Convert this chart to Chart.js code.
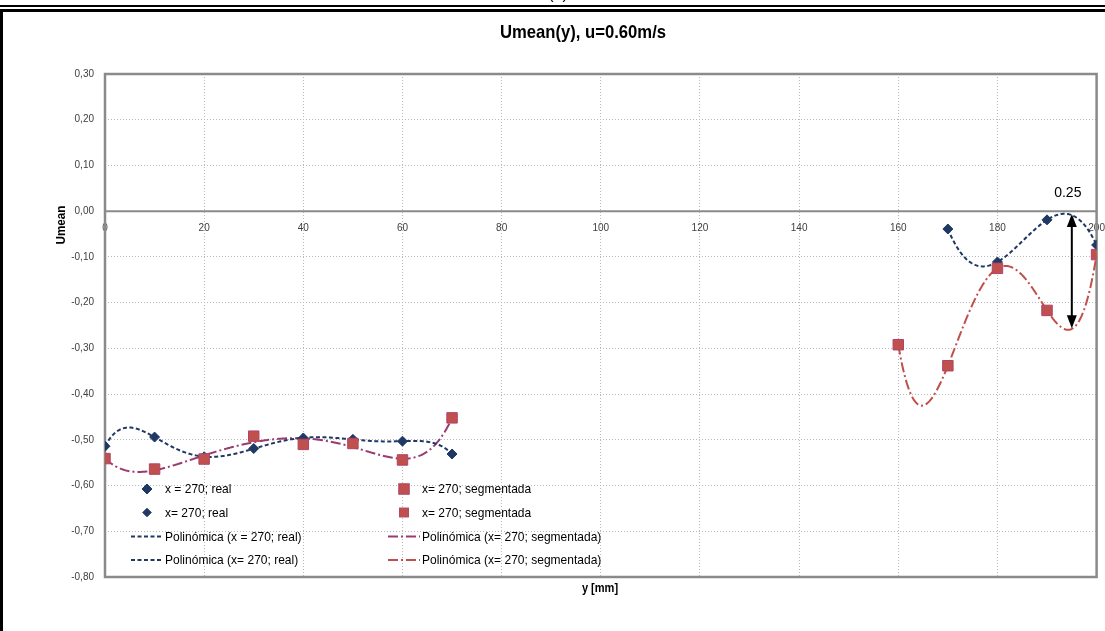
<!DOCTYPE html>
<html>
<head>
<meta charset="utf-8">
<script src="https://cdn.jsdelivr.net/npm/chart.js@4.4.1/dist/chart.umd.min.js"></script>
<style>
  html, body { margin: 0; padding: 0; background: #ffffff; }
  #wrap { position: relative; width: 1105px; height: 631px; overflow: hidden; }
  canvas { display: block; }
</style>
</head>
<body>
<div id="wrap"><canvas id="c" width="1105" height="631"></canvas></div>
<script>
// ---- measured profiles: Umean against transverse position y [mm] ----
const yRealLeft   = [0, 10, 20, 30, 40, 50, 60, 70];
const realLeft    = [-0.514, -0.494, -0.537, -0.519, -0.496, -0.499, -0.503, -0.531];
const ySegLeft    = [0, 10, 20, 30, 40, 50, 60, 70];
const segLeft     = [-0.541, -0.564, -0.542, -0.492, -0.510, -0.508, -0.544, -0.452];
const yRealRight  = [170, 180, 190, 200];
const realRight   = [-0.039, -0.111, -0.019, -0.074];
const ySegRight   = [160, 170, 180, 190, 200];
const segRight    = [-0.292, -0.338, -0.125, -0.217, -0.095];

// polynomial trend orders per series
const orderRealLeft = 6, orderSegLeft = 6, orderRealRight = 3, orderSegRight = 4;

// axis ticks
const xTicks = [0, 20, 40, 60, 80, 100, 120, 140, 160, 180, 200];
const yTicks = [0.30, 0.20, 0.10, 0.00, -0.10, -0.20, -0.30, -0.40, -0.50, -0.60, -0.70, -0.80];

// gap annotation between the two right-hand trends
const gapValue = 0.25;
const gapAtY   = 195;
const gapTop   = -0.006;

const chartTitle = 'Umean(y), u=0.60m/s';
const xTitle = 'y [mm]';
const yTitle = 'Umean';
const labels = {
  realLeft: 'x = 270; real',
  realRight: 'x= 270; real',
  segLeft: 'x= 270; segmentada',
  segRight: 'x= 270; segmentada',
  trRealLeft: 'Polinómica (x = 270; real)',
  trRealRight: 'Polinómica (x= 270; real)',
  trSegLeft: 'Polinómica (x= 270; segmentada)',
  trSegRight: 'Polinómica (x= 270; segmentada)'
};

const SANS = "'Liberation Sans', Arial, sans-serif";
const BLUE = '#1f3864';
const RED = '#c0504d';
const PURPLE = '#9b3a72';

// least-squares polynomial fit (normalised abscissa), returns evaluator
function polyfit(xs, ys, order) {
  const n = xs.length;
  const mx = xs.reduce((a, b) => a + b, 0) / n;
  const sc = Math.max(...xs.map(x => Math.abs(x - mx))) || 1;
  const ts = xs.map(x => (x - mx) / sc);
  const m = order + 1;
  const A = [], b = [];
  for (let i = 0; i < m; i++) {
    A.push(new Array(m).fill(0));
    b.push(0);
    for (let k = 0; k < n; k++) b[i] += ys[k] * Math.pow(ts[k], i);
    for (let j = 0; j < m; j++) {
      for (let k = 0; k < n; k++) A[i][j] += Math.pow(ts[k], i + j);
    }
  }
  for (let c = 0; c < m; c++) {
    let p = c;
    for (let r = c + 1; r < m; r++) if (Math.abs(A[r][c]) > Math.abs(A[p][c])) p = r;
    [A[c], A[p]] = [A[p], A[c]];
    [b[c], b[p]] = [b[p], b[c]];
    for (let r = c + 1; r < m; r++) {
      const f = A[r][c] / A[c][c];
      for (let j = c; j < m; j++) A[r][j] -= f * A[c][j];
      b[r] -= f * b[c];
    }
  }
  const coef = new Array(m).fill(0);
  for (let r = m - 1; r >= 0; r--) {
    let s = b[r];
    for (let j = r + 1; j < m; j++) s -= A[r][j] * coef[j];
    coef[r] = s / A[r][r];
  }
  return x => {
    const t = (x - mx) / sc;
    let v = 0;
    for (let k = m - 1; k >= 0; k--) v = v * t + coef[k];
    return v;
  };
}

function trendPoints(xs, ys, order) {
  const f = polyfit(xs, ys, order);
  const pts = [];
  const x0 = xs[0], x1 = xs[xs.length - 1];
  for (let x = x0; x <= x1 + 1e-9; x += 0.25) pts.push({ x: x, y: f(x) });
  return pts;
}

const pairs = (xs, ys) => xs.map((x, i) => ({ x: x, y: ys[i] }));

const trendLine = (label, data, color, dash) => ({
  label, data, showLine: true, pointRadius: 0, pointHoverRadius: 0,
  borderColor: color, borderWidth: 2, borderDash: dash, fill: false,
  tension: 0, order: 10
});

const datasets = [
  trendLine(labels.trRealLeft, trendPoints(yRealLeft, realLeft, orderRealLeft), BLUE, [4, 2.5]),
  trendLine(labels.trRealRight, trendPoints(yRealRight, realRight, orderRealRight), BLUE, [4, 2.5]),
  trendLine(labels.trSegLeft, trendPoints(ySegLeft, segLeft, orderSegLeft), PURPLE, [10, 3, 2, 3]),
  trendLine(labels.trSegRight, trendPoints(ySegRight, segRight, orderSegRight), RED, [10, 3, 2, 3]),
  {
    label: labels.realLeft, data: pairs(yRealLeft, realLeft), showLine: false,
    pointStyle: 'rectRot', pointRadius: 5, backgroundColor: BLUE, borderColor: BLUE, borderWidth: 1, order: 5
  },
  {
    label: labels.realRight, data: pairs(yRealRight, realRight), showLine: false,
    pointStyle: 'rectRot', pointRadius: 5, backgroundColor: BLUE, borderColor: BLUE, borderWidth: 1, order: 5
  },
  {
    label: labels.segLeft, data: pairs(ySegLeft, segLeft), showLine: false,
    pointStyle: 'rect', pointRadius: 7.4, backgroundColor: RED, borderColor: '#b04468', borderWidth: 1, order: 1
  },
  {
    label: labels.segRight, data: pairs(ySegRight, segRight), showLine: false,
    pointStyle: 'rect', pointRadius: 7.4, backgroundColor: RED, borderColor: '#b04468', borderWidth: 1, order: 1
  }
];

// legend layout: two columns, rows as in the dataset grouping
const legendRows = [
  [4, 6],
  [5, 7],
  [0, 2],
  [1, 3]
];

function drawMarker(ctx, ds, x, y, scale) {
  ctx.save();
  ctx.fillStyle = ds.backgroundColor;
  ctx.strokeStyle = ds.borderColor;
  ctx.lineWidth = ds.borderWidth;
  ctx.setLineDash([]);
  if (ds.pointStyle === 'rectRot') {
    const r = ds.pointRadius * scale;
    ctx.beginPath();
    ctx.moveTo(x, y - r); ctx.lineTo(x + r, y); ctx.lineTo(x, y + r); ctx.lineTo(x - r, y);
    ctx.closePath(); ctx.fill(); ctx.stroke();
  } else {
    const h = ds.pointRadius * Math.SQRT1_2 * scale;
    ctx.fillRect(x - h, y - h, 2 * h, 2 * h);
    ctx.strokeRect(x - h, y - h, 2 * h, 2 * h);
  }
  ctx.restore();
}

// text with a narrowed face (horizontal squeeze of the sans face)
function narrowText(ctx, text, x, y, font, sx, align) {
  ctx.save();
  ctx.font = font;
  ctx.textAlign = align || 'left';
  ctx.translate(x, y);
  ctx.scale(sx, 1);
  ctx.fillText(text, 0, 0);
  ctx.restore();
}

const decor = {
  id: 'decor',
  beforeDatasetsDraw(chart) {
    const { ctx, chartArea: a, scales } = chart;
    const y0 = scales.y.getPixelForValue(0);
    ctx.save();
    ctx.strokeStyle = '#8a8a8a';
    ctx.lineWidth = 2;
    ctx.beginPath();
    ctx.moveTo(a.left, y0); ctx.lineTo(a.right, y0);
    ctx.stroke();
    ctx.lineWidth = 2.5;
    ctx.strokeRect(a.left, a.top, a.right - a.left, a.bottom - a.top);
    ctx.restore();
  },
  afterDraw(chart) {
    const { ctx, scales } = chart;
    const sx = scales.x, sy = scales.y;
    ctx.save();

    // gap arrow between the two trends on the right
    const ax = sx.getPixelForValue(gapAtY);
    const aTop = sy.getPixelForValue(gapTop);
    const aBot = sy.getPixelForValue(gapTop - gapValue);
    ctx.strokeStyle = '#000'; ctx.fillStyle = '#000'; ctx.lineWidth = 2;
    ctx.beginPath(); ctx.moveTo(ax, aTop + 10); ctx.lineTo(ax, aBot - 10); ctx.stroke();
    ctx.beginPath(); ctx.moveTo(ax, aTop); ctx.lineTo(ax - 5, aTop + 13); ctx.lineTo(ax + 5, aTop + 13); ctx.closePath(); ctx.fill();
    ctx.beginPath(); ctx.moveTo(ax, aBot); ctx.lineTo(ax - 5, aBot - 13); ctx.lineTo(ax + 5, aBot - 13); ctx.closePath(); ctx.fill();
    ctx.textBaseline = 'middle';
    narrowText(ctx, gapValue.toFixed(2), ax - 4, aTop - 21, '14px ' + SANS, 1, 'center');

    // legend
    ctx.textBaseline = 'middle';
    const colX = [131, 388];
    const rowY = [489, 512.5, 536.5, 560];
    legendRows.forEach((row, ri) => {
      row.forEach((di, ci) => {
        const ds = chart.data.datasets[di];
        const x0 = colX[ci], y = rowY[ri];
        if (ds.showLine) {
          ctx.save();
          ctx.strokeStyle = ds.borderColor; ctx.lineWidth = 2;
          ctx.setLineDash(ds.borderDash);
          ctx.beginPath(); ctx.moveTo(x0, y); ctx.lineTo(x0 + 32, y); ctx.stroke();
          ctx.restore();
        } else {
          drawMarker(ctx, ds, x0 + 16, y, ri === 0 ? 1 : 0.85);
        }
        ctx.fillStyle = '#000';
        narrowText(ctx, ds.label, x0 + 34, y + 0.5, '13.5px ' + SANS, 0.89, 'left');
      });
    });

    // titles
    ctx.fillStyle = '#000';
    ctx.textBaseline = 'middle';
    narrowText(ctx, chartTitle, 583, 33, 'bold 18.5px ' + SANS, 0.9, 'center');
    narrowText(ctx, xTitle, 600, 588, 'bold 13px ' + SANS, 0.85, 'center');
    ctx.save();
    ctx.translate(61, 225);
    ctx.rotate(-Math.PI / 2);
    narrowText(ctx, yTitle, 0, 0, 'bold 13px ' + SANS, 0.9, 'center');
    ctx.restore();

    // page frame
    ctx.fillStyle = '#000';
    ctx.fillRect(0, 5, 1105, 2);
    ctx.fillRect(0, 9, 1105, 3);
    ctx.fillRect(0, 9, 3, 622);
    ctx.font = '16px ' + SANS;
    ctx.textAlign = 'center';
    ctx.textBaseline = 'alphabetic';
    ctx.fillText('(b)', 558, -1);
    ctx.restore();
  }
};

new Chart(document.getElementById('c'), {
  type: 'scatter',
  data: { datasets },
  options: {
    responsive: false,
    animation: false,
    events: [],
    layout: { padding: { left: 45, top: 74, right: 8, bottom: 54 } },
    plugins: { legend: { display: false }, tooltip: { enabled: false }, title: { display: false } },
    scales: {
      x: {
        type: 'linear', min: 0, max: 200,
        position: { y: 0 },
        afterBuildTicks: s => { s.ticks = xTicks.map(v => ({ value: v })); },
        afterFit: s => { s.paddingLeft = 0; s.paddingRight = 0; },
        ticks: { color: '#404040', font: { family: SANS, size: 10 }, padding: 11, maxRotation: 0, autoSkip: false },
        grid: { color: '#b8b8b8', lineWidth: 1, drawTicks: false },
        border: { display: false, dash: [1, 2] }
      },
      y: {
        type: 'linear', min: -0.8, max: 0.3,
        afterBuildTicks: s => { s.ticks = yTicks.map(v => ({ value: v })); },
        afterFit: s => { s.width = 60; s.paddingTop = 0; s.paddingBottom = 0; },
        ticks: {
          color: '#404040', font: { family: SANS, size: 10 }, padding: 11,
          callback: v => v.toFixed(2).replace('.', ',')
        },
        grid: { color: '#b8b8b8', lineWidth: 1, drawTicks: false },
        border: { display: false, dash: [1, 2] }
      }
    }
  },
  plugins: [decor]
});
</script>
</body>
</html>
